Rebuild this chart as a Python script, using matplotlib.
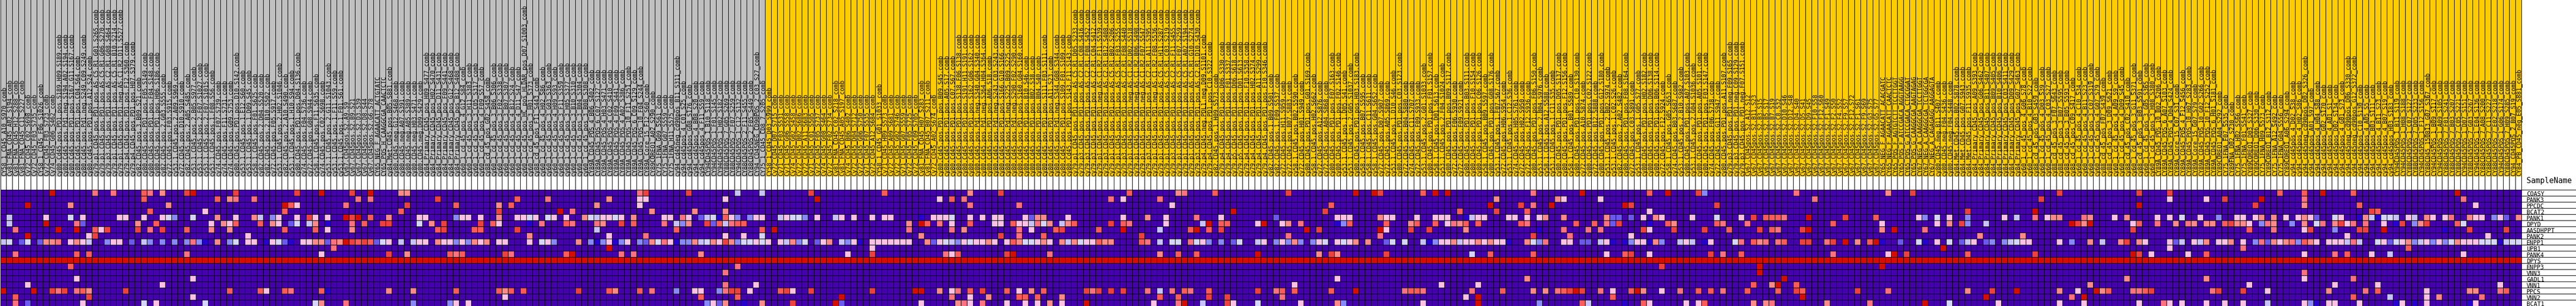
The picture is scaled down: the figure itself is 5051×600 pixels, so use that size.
import numpy as np
import matplotlib
matplotlib.use('Agg')
import matplotlib.pyplot as plt
from matplotlib.colors import ListedColormap
from matplotlib.patches import Rectangle

# heatmap colours, low to high
palette = ['#4500ad', '#2700d1', '#6b58ef', '#8888ff', '#c7c1ff', '#d5d5ff',
           '#ffc0e5', '#ff8989', '#ff7080', '#ff5a5a', '#ef4040', '#d60c00']
level_codes = 'abcdefghijkl'

genes = ['COASY', 'PANK3', 'PPCDC', 'BCAT2', 'PANK1', 'DPYD', 'AASDHPPT', 'PANK2', 'ENPP1', 'UPB1',
         'PANK4', 'DPYS', 'ENPP3', 'VNN3', 'GADL1', 'VNN1', 'PPCS', 'VNN2', 'BCAT1']

n_gray = 125
dpys_code = 'l'

# sample names, left to right
names_000 = ['CY58_1_CD45_A10_S970_comb', 'Cy81_FNA_CD45_A02_S194_comb', 'Cy81_FNA_CD45_H12_S288_comb', 'Cy81_FNA_CD45_C11_S227_comb', 'Cy72_CD45_C02_S698_comb', 'Cy72_CD45_F03_S735_comb', 'CY58_1_CD45_F06_S1026_comb', 'Cy72_CD45_F03_S723_comb', 'Cy74_CD45_G06_S462_comb',
             'cy80.Cd45.pos.PD1.pos.S189.H09.S189.comb', 'cy80.Cd45.pos.Pd1.neg.S194.A02.S194.comb', 'cy80.Cd45.pos.PD1.pos.S167.G11.S167.comb', 'cy80.Cd45.pos.PD1.pos.C04.S64.comb', 'cy80.Cd45.pos.Pd1.neg.S249.C09.S249.comb', 'cy80.Cd45.pos.PD1.pos.A12.S24.comb',
             'cy79.p1.CD45.pos.PD1.pos.AS.C5.R1.G01.S265.comb', 'cy79.p1.CD45.pos.PD1.pos.AS.C5.R1.G06.S270.comb', 'cy79.p3.CD45.pos.PD1.pos.AS.C2.R1.G08.S464.comb', 'cy79.p1.CD45.pos.PD1.pos.AS.C5.R1.B10.S214.comb', 'cy79.p1.CD45.pos.PD1.neg.AS.C1.R2.D11.S527.comb',
             'cy79.p4.CD45.pos.PD1.pos.F12.S360.comb', 'cy79.p4.CD45.pos.PD1.pos.H07.S379.comb', 'cy82.CD45.pos.3.B09.S21.comb', 'cy80.CD45.pos.PD1.pos.F05.S149.comb', 'cy80.CD45.pos.PD1.pos.F04.S148.comb', 'cy80.CD45.pos.PD1.pos.H06.S186.comb', 'cy82.CD45.pos.2.G03.S555.comb', 'cy72.CD45.pos.F03.S915.comb',
             'cy53.1.CD45.pos.2.A09.S969.comb', 'cy72.CD45.pos.D10.S910.comb', 'cy82.CD45.pos.2.A05.S485.comb', 'cy53.1.CD45.pos.2.B05.S977.comb', 'cy53.1.CD45.pos.2.F07.S1027.comb', 'cy53.1.CD45.pos.2.F07.S1015.comb', 'cy53.1.CD45.pos.1.F08.S56.comb', 'cy74.CD45.pos.F07.S739.comb', 'cy74.CD45.pos.F11.S731.comb', 'cy74.CD45.pos.G09.S753.comb',
             'cy80.CD45.pos.PD1.pos.D10.S142.comb', 'cy53.1.CD45.pos.1.E12.S60.comb', 'cy53.1.CD45.pos.1.D09.S45.comb']
names_041 = ['cy58.1.CD45.pos.F01.S625.comb', 'cy82.CD45.pos.2.D04.S520.comb', 'cy82.CD45.pos.2.B10.S502.comb', 'cy72.CD45.pos.F05.S917.comb', 'cy53.1.CD45.pos.2.H02.S1046.comb', 'cy82.CD45.pos.2.A10.S490.comb', 'cy53.1.CD45.pos.1.H10.S94.comb', 'cy80.CD45.pos.PD1.pos.D04.S136.comb', 'cy74.CD45.pos.F04.S736.comb', 'cy72.CD45.pos.G08.S944.comb',
             'cy58.1.CD45.pos.F11.S635.comb', 'cy74.CD45.pos.C02.S698.comb', 'cy53.1.CD45.pos.2.G11.S1043.comb', 'cy53.1.CD45.pos.1.F11.S59.comb', 'cy53.1.CD45.pos.1.F01.S61.comb', 'Cy67.CD45pos.S2.A9.S9', 'Cy67.CD45pos.S2.B9.S21', 'Cy67.CD45pos.S2.D3.S39', 'Cy67.CD45pos.S2.D8.S44', 'Cy67.CD45pos.S2.G6.S78',
             'CY65_NEG_F_AGAACATT_ACTGTATC', 'CY65_POS_H_CAAGGCGA_CAACTCTC', 'cy84.Met.CD45.pos.B05.S881.comb', 'cy80.CD45.neg.G12.S468.comb', 'cy80.CD45.neg.A07.S391.comb', 'cy80.CD45.neg.A05.S389.comb', 'cy80.CD45.neg.H03.S471.comb', 'cy80.CD45.neg.D09.S429.comb',
             'cy84_Primary_CD45_pos_H09_S477_comb', 'cy84_Primary_CD45_pos_H02_S470_comb', 'cy84_Primary_CD45_pos_D11_S431_comb', 'cy84_Primary_CD45_pos_F09_S441_comb', 'cy84_Primary_CD45_pos_G12_S468_comb', 'cy84_Primary_CD45_pos_B12_S408_comb',
             'cy60_1_cd_45_pos_4_G12_S84_comb', 'cy60_1_cd_45_pos_3_H11_S383_comb', 'cy60_1_cd_45_pos_3_C05_S317_comb', 'cy60_1_cd_45_pos_4_F09_S57_comb', 'cy88_cd_45_pos_G02_S458_comb', 'cy60_1_cd_45_pos_3_B06_S306_comb']
names_081 = ['cy60_1_cd_45_pos_3_F02_S338_comb', 'cy60_1_cd_45_pos_3_B07_S307_comb', 'cy60_1_cd_45_pos_4_B12_S24_comb', 'cy60_1_cd_45_pos_4_D11_S47_comb', 'cy60_1_cd_45_pos_HC_pos_HLDAR_pos_D07_S1003_comb', 'cy60_1_cd_45_pos_3_H01_S373_comb', 'cy88_cd_45_pos_F11_S443_comb', 'cy60_1_cd_45_pos_4_H02_S86_comb', 'cy60_1_cd_45_pos_3_G03_S363_comb', 'cy60_1_cd_45_pos_4_H09_S93_comb',
             'cy60_1_cd_45_pos_3_F11_S359_comb', 'cy60_1_cd_45_pos_3_H05_S377_comb', 'cy60_1_cd_45_pos_3_B10_S310_comb', 'cy60_1_cd_45_pos_3_B04_S304_comb', 'cy60_1_cd_45_pos_3_B08_S308_comb',
             'CY89A_CD45_POS_4_B06_S402_comb', 'CY89A_CD45_POS_6_C07_S127_comb', 'CY89A_CD45_POS_4_H03_S471_comb', 'CY89A_CD45_POS_4_C02_S410_comb', 'CY89A_CD45_POS_4_F09_S441_comb', 'CY89A_CD45_POS_4_A02_S386_comb', 'CY89A_CD45_POS_10_F11_S251_comb', 'CY89A_CD45_POS_6_C09_S129_comb', 'CY89A_CD45_POS_10_F04_S244_comb', 'CY89A_Core_15_F12_S60_comb',
             'CY89COREQ1_A02_S290_comb', 'CY75_1FNA_G09_S561_comb', 'CY75_1FNA_G07_S559_comb', 'CY75_1FNA_H11_S575_comb', 'cy94_cd45neg_cd90pos_B11_S311_comb', 'cy94_cd45pos_4_C01_S25_comb', 'cy94_cd45pos_G08_S176_comb', 'cy94_cd45pos_4_B08_S20_comb', 'cy94_cd45pos_4_F11_S59_comb',
             'CY94CD45POS_1_B10_S118_comb', 'CY94CD45POS_1_F01_S145_comb', 'CY94CD45POS_1_H02_S182_comb', 'CY88CD45POS_7_G05_S269_comb', 'CY88CD45POS_7_F07_S259_comb', 'CY94CD45POS_1_C12_S132_comb']
names_121 = ['CY88CD45POS_2_F11_S455_comb', 'CY88CD45POS_2_F05_S449_comb', 'CY94_CD45NEG_CD90POS_2_C03_S27_comb', 'CY75_1_CD45_CD8_7_S205_comb', 'CY58_1_CD45_D03_S999_comb', 'Cy72_CD45_D07_S715_comb', 'Cy71_CD45_F03_S531_comb', 'Cy71_CD45_G06_S558_comb', 'Cy74_CD45_G02_S458_comb', 'Cy72_CD45_B02_S686_comb',
             'Cy72_CD45_A11_S683_comb', 'Cy71_CD45_C01_S505_comb', 'Cy72_CD45_F05_S737_comb', 'Cy74_CD45_G08_S464_comb', 'Cy72_CD45_F02_S734_comb', 'Cy81_FNA_CD45_C02_S218_comb', 'Cy81_FNA_CD45_A05_S197_comb', 'Cy74_CD45_B06_S402_comb', 'Cy72_CD45_D04_S712_comb', 'Cy72_CD45_G06_S750_comb',
             'Cy71_CD45_F07_S535_comb', 'Cy72_CD45_A12_S684_comb', 'CY58_1_CD45_G01_S1033_comb', 'Cy71_CD45_H09_S573_comb', 'Cy72_CD45_A09_S681_comb', 'Cy72_CD45_G02_S746_comb', 'Cy71_CD45_G07_S559_comb', 'Cy72_CD45_F05_S725_comb', 'Cy72_CD45_C09_S705_comb', 'Cy81_FNA_CD45_H07_S283_comb',
             'Cy81_FNA_CD45_B07_S211_comb', 'Cy72_CD45_A02_S674_comb', 'cy80.Cd45.pos.PD1.pos.B09.S45.comb', 'cy80.Cd45.pos.PD1.pos.A05.S17.comb', 'cy80.Cd45.pos.PD1.pos.C07.S67.comb', 'cy80.Cd45.pos.PD1.pos.S138.F06.S138.comb', 'cy80.Cd45.pos.PD1.pos.S191.H11.S191.comb', 'cy80.Cd45.pos.PD1.pos.S162.G06.S162.comb', 'cy80.Cd45.pos.Pd1.neg.S340.G04.S340.comb', 'cy80.Cd45.pos.Pd1.neg.S364.H04.S364.comb']
names_161 = ['cy80.Cd45.pos.PD1.pos.A06.S18.comb', 'cy80.Cd45.pos.Pd1.neg.S243.C03.S243.comb', 'cy80.Cd45.pos.PD1.pos.S166.G10.S166.comb', 'cy80.Cd45.pos.Pd1.neg.S225.B09.S225.comb', 'cy80.Cd45.pos.Pd1.neg.S290.F02.S290.comb', 'cy80.Cd45.pos.PD1.pos.S160.G04.S160.comb', 'cy80.Cd45.pos.PD1.pos.B10.S46.comb', 'cy80.Cd45.pos.PD1.pos.B02.S38.comb', 'cy80.Cd45.pos.PD1.pos.B04.S40.comb', 'cy80.Cd45.pos.PD1.pos.S111.F03.S111.comb',
             'cy80.Cd45.pos.PD1.pos.A11.S23.comb', 'cy80.Cd45.pos.Pd1.neg.S344.G08.S344.comb', 'cy80.Cd45.pos.PD1.pos.S109.F01.S109.comb', 'cy80.Cd45.pos.PD1.pos.S143.F11.S143.comb', 'cy79.p1.CD45.pos.PD1.pos.AS.C5.R1.D05.S233.comb', 'cy79.p3.CD45.pos.PD1.pos.AS.C2.R1.C08.S416.comb', 'cy79.p3.CD45.pos.PD1.pos.AS.C2.R1.F08.S452.comb', 'cy79.p3.CD45.pos.PD1.pos.AS.C2.R1.C04.S412.comb', 'cy79.p1.CD45.pos.PD1.neg.AS.C1.R2.F11.S539.comb', 'cy79.p3.CD45.pos.PD1.pos.AS.C2.R1.B12.S408.comb',
             'cy79.p1.CD45.pos.PD1.pos.AS.C5.R1.B02.S206.comb', 'cy79.p1.CD45.pos.PD1.pos.AS.C5.R1.F03.S255.comb', 'cy79.p3.CD45.pos.PD1.pos.AS.C2.R1.F08.S440.comb', 'cy79.p1.CD45.pos.PD1.neg.AS.C1.R2.D02.S518.comb', 'cy79.p1.CD45.pos.PD1.neg.AS.C1.R2.B06.S498.comb', 'cy79.p1.CD45.pos.PD1.neg.AS.C1.R2.F07.S547.comb', 'cy79.p3.CD45.pos.PD1.pos.AS.C2.R1.A11.S395.comb', 'cy79.p1.CD45.pos.PD1.neg.AS.C1.R2.F08.S536.comb', 'cy79.p1.CD45.pos.PD1.pos.AS.C5.R1.H11.S287.comb', 'cy79.p1.CD45.pos.PD1.pos.AS.C5.R1.C03.S219.comb',
             'cy79.p3.CD45.pos.PD1.pos.AS.C2.R1.F11.S455.comb', 'cy79.p1.CD45.pos.PD1.pos.AS.C5.R1.F07.S259.comb', 'cy79.p1.CD45.pos.PD1.pos.AS.C5.R1.A02.S194.comb', 'cy79.p1.CD45.pos.PD1.pos.AS.C5.R1.G10.S274.comb', 'cy79.p3.CD45.pos.PD1.pos.AS.C2.R1.D10.S430.comb', 'cy79.p4.CD45.neg.PDL1.neg.D09.S1101.comb', 'cy79.p4.CD45.pos.PD1.pos.C10.S322.comb', 'cy82.CD45.pos.1.H09.S573.comb', 'cy79.p4.CD45.pos.PD1.pos.D06.S330.comb', 'cy79.p4.CD45.pos.PD1.pos.F01.S337.comb']
names_201 = ['cy79.p5.CD45.pos.PD1.pos.D06.S618.comb', 'cy79.p5.CD45.pos.PD1.pos.D01.S613.comb', 'cy79.p4.CD45.pos.PD1.pos.F10.S358.comb', 'cy79.p4.CD45.pos.PD1.pos.H02.S374.comb', 'cy79.p4.CD45.pos.PD1.pos.A11.S299.comb', 'cy79.p4.CD45.pos.PD1.pos.F10.S346.comb', 'cy82.CD45.pos.1.B09.S501.comb', 'cy82.CD45.pos.1.F09.S537.comb', 'cy72.CD45.pos.H11.S959.comb', 'cy72.CD45.pos.B07.S883.comb',
             'cy58.1.CD45.pos.B02.S590.comb', 'cy72.CD45.pos.H01.S949.comb', 'cy80.CD45.pos.PD1.pos.G01.S169.comb', 'cy58.1.CD45.pos.H02.S662.comb', 'cy72.CD45.pos.A12.S876.comb', 'cy72.CD45.pos.A04.S868.comb', 'cy80.CD45.pos.PD1.pos.F07.S163.comb', 'cy80.CD45.pos.PD1.pos.F02.S146.comb', 'cy53.1.CD45.pos.1.D05.S41.comb', 'cy53.1.CD45.pos.2.G05.S1037.comb',
             'cy80.CD45.pos.PD1.pos.H03.S183.comb', 'cy58.1.CD45.pos.B07.S595.comb', 'cy58.1.CD45.pos.C11.S611.comb', 'cy58.1.CD45.pos.G04.S652.comb', 'cy72.CD45.pos.D07.S907.comb', 'cy72.CD45.pos.A05.S869.comb', 'cy53.1.CD45.pos.1.D10.S46.comb', 'cy80.CD45.pos.PD1.pos.C03.S123.comb', 'cy72.CD45.pos.B04.S880.comb', 'cy74.CD45.pos.C11.S707.comb',
             'cy72.CD45.pos.F09.S933.comb', 'cy53.1.CD45.pos.2.G01.S1033.comb', 'cy80.CD45.pos.PD1.pos.F01.S157.comb', 'cy58.1.CD45.pos.D01.S613.comb', 'cy53.1.CD45.pos.2.F04.S1024.comb', 'cy80.CD45.pos.PD1.pos.B09.S117.comb', 'cy72.CD45.pos.F06.S930.comb', 'cy72.CD45.pos.F09.S921.comb', 'cy80.CD45.pos.PD1.pos.B03.S111.comb', 'cy80.CD45.pos.PD1.pos.F10.S154.comb']
names_241 = ['cy80.CD45.pos.PD1.pos.C06.S126.comb', 'cy58.1.CD45.pos.B09.S597.comb', 'cy80.CD45.pos.PD1.pos.G08.S176.comb', 'cy53.1.CD45.pos.1.F07.S67.comb', 'cy72.CD45.pos.H06.S954.comb', 'cy53.1.CD45.pos.1.C12.S36.comb', 'cy74.CD45.pos.H05.S761.comb', 'cy72.CD45.pos.H02.S950.comb', 'cy72.CD45.pos.F12.S936.comb', 'cy80.CD45.pos.PD1.pos.F06.S150.comb',
             'cy53.1.CD45.pos.2.B04.S976.comb', 'cy58.1.CD45.pos.A12.S588.comb', 'cy53.1.CD45.pos.1.C11.S35.comb', 'cy80.CD45.pos.PD1.pos.D05.S137.comb', 'cy80.CD45.pos.PD1.pos.F12.S156.comb', 'cy58.1.CD45.pos.B01.S589.comb', 'cy80.CD45.pos.PD1.pos.C10.S130.comb', 'cy72.CD45.pos.A10.S874.comb', 'cy80.CD45.pos.PD1.pos.C02.S122.comb', 'cy72.CD45.pos.B12.S888.comb',
             'cy80.CD45.pos.PD1.pos.G12.S180.comb', 'cy53.1.CD45.pos.2.B02.S974.comb', 'cy53.1.CD45.pos.1.C02.S26.comb', 'cy82.CD45.pos.2.A02.S482.comb', 'cy80.CD45.pos.PD1.pos.F08.S164.comb', 'cy72.CD45.pos.C03.S891.comb', 'cy53.1.CD45.pos.1.G05.S77.comb', 'cy80.CD45.pos.PD1.pos.H02.S182.comb', 'cy80.CD45.pos.PD1.pos.D06.S138.comb', 'cy80.CD45.pos.PD1.pos.B06.S114.comb',
             'cy72.CD45.pos.F12.S924.comb', 'cy58.1.CD45.pos.G05.S653.comb', 'cy74.CD45.pos.B03.S687.comb', 'cy53.1.CD45.pos.2.B10.S982.comb', 'cy80.CD45.pos.PD1.pos.A07.S103.comb', 'cy53.1.CD45.pos.2.G04.S1036.comb', 'cy80.CD45.pos.PD1.pos.A05.S101.comb', 'cy80.CD45.pos.PD1.pos.F03.S147.comb', 'cy74.CD45.pos.F06.S738.comb', 'cy72.CD45.pos.G11.S947.comb']
names_281 = ['cy80.CD45.pos.PD1.pos.A11.S107.comb', 'cy79.p3.CD45.pos.PD1.neg.F09.S165.comb', 'cy79.p3.CD45.pos.PD1.neg.C09.S129.comb', 'cy79.p3.CD45.pos.PD1.neg.F07.S151.comb', 'Cy67.CD45pos.S2.A12.S12', 'Cy67.CD45pos.S2.B11.S23', 'Cy67.CD45pos.S2.B3.S15', 'Cy67.CD45pos.S2.B5.S17', 'Cy67.CD45pos.S2.B7.S19', 'Cy67.CD45pos.S2.C8.S32',
             'Cy67.CD45pos.S2.D10.S46', 'Cy67.CD45pos.S2.D12.S48', 'Cy67.CD45pos.S2.D4.S40', 'Cy67.CD45pos.S2.D5.S41', 'Cy67.CD45pos.S2.D9.S45', 'Cy67.CD45pos.S2.F10.S58', 'Cy67.CD45pos.S2.F12.S60', 'Cy67.CD45pos.S2.F1.S49', 'Cy67.CD45pos.S2.F2.S50', 'Cy67.CD45pos.S2.F4.S52',
             'Cy67.CD45pos.S2.F9.S57', 'Cy67.CD45pos.S2.F12.S72', 'Cy67.CD45pos.S2.F1.S61', 'Cy67.CD45pos.S2.F9.S69', 'Cy67.CD45pos.S2.G3.S75', 'Cy67.CD45pos.S2.G5.S77', 'CY65_NEG_F_AGAACATT_ACACGATC', 'CY65_NEG_F_AGAACATT_CAACTCTC', 'CY65_POS_F_AGTGTCTT_TCCTTGGT', 'CY65_POS_F_ATCCGACA_AGGTAAGG',
             'CY65_POS_G_ATCCGACA_CTGCGGAT', 'CY65_POS_G_CAAGGCGA_AAGTAGAG', 'CY67_NEG_A_CAAGGCGA_TCCTTGGT', 'CY67_NEG_A_CAAGGCGA_TCTGGCGA', 'CY67_NEG_A_CAGAGAGG_AAGGAGTA', 'cy80.CD45.neg.B11.S407.comb', 'cy80.CD45.neg.F04.S436.comb', 'cy80.CD45.neg.F04.S448.comb', 'cy84.Met.CD45.pos.B02.S878.comb', 'cy84.Met.CD45.pos.G07.S943.comb']
names_321 = ['cy84.Met.CD45.pos.F11.S935.comb', 'cy84_Primary_CD45_pos_A09_S393_comb', 'cy84_Primary_CD45_pos_G06_S462_comb', 'cy84_Primary_CD45_pos_B11_S407_comb', 'cy84_Primary_CD45_pos_B09_S405_comb', 'cy84_Primary_CD45_pos_B10_S406_comb', 'cy84_Primary_CD45_pos_C03_S411_comb', 'cy84_Primary_CD45_pos_D09_S429_comb', 'cy84_Primary_CD45_pos_G07_S463_comb', 'cy60_1_cd_45_pos_4_G06_S78_comb',
             'cy60_1_cd_45_pos_4_B10_S22_comb', 'cy88_cd_45_pos_G03_S459_comb', 'cy60_1_cd_45_pos_4_D03_S39_comb', 'cy60_1_cd_45_pos_4_C03_S27_comb', 'cy88_cd_45_pos_3_F07_S643_comb', 'cy88_cd_45_pos_3_B07_S595_comb', 'cy88_cd_45_pos_3_B05_S593_comb', 'cy88_cd_45_pos_C09_S417_comb', 'cy60_1_cd_45_pos_4_C10_S34_comb', 'cy60_1_cd_45_pos_4_B11_S23_comb',
             'cy60_1_cd_45_pos_3_C07_S319_comb', 'cy60_1_cd_45_pos_4_G07_S79_comb', 'cy88_cd_45_pos_F07_S439_comb', 'cy88_cd_45_pos_3_D09_S621_comb', 'cy60_1_cd_45_pos_4_A09_S9_comb', 'cy60_1_cd_45_pos_4_D09_S45_comb', 'cy88_cd_45_pos_C02_S410_comb', 'cy60_1_cd_45_pos_3_G11_S371_comb', 'cy88_cd_45_pos_3_B03_S591_comb', 'cy60_1_cd_45_pos_3_G05_S365_comb',
             'cy60_1_cd_45_pos_3_H08_S380_comb', 'CY89A_CD45_POS_10_B02_S206_comb', 'CY89A_CD45_POS_6_A07_S103_comb', 'CY89A_CD45_POS_4_D04_S424_comb', 'CY89A_Core_15_C07_S31_comb', 'CY89A_CD45_POS_4_F12_S456_comb', 'CY89A_CD45_POS_10_H07_S283_comb', 'CY89A_Core_15_G07_S79_comb', 'CY89A_CD45_POS_10_G02_S266_comb', 'CY89A_CD45_POS_10_F12_S252_comb']
names_361 = ['CY89A_CD45_POS_6_H01_S181_comb', 'CY89COREQ1_A04_S292_comb', 'CY75_1FNA_F07_S535_comb', 'CY89FNA_D02_S230_comb', 'CY75_1FNA_H02_S566_comb', 'CY75_1FNA_F01_S541_comb', 'CY89COREQ1_D03_S327_comb', 'CY89COREQ1_D06_S330_comb', 'CY75_1FNA_H09_S573_comb', 'CY89COREQ1_B12_S312_comb',
             'CY75_1FNA_A12_S492_comb', 'CY75_1FNA_G04_S556_comb', 'CY89COREQ1_A06_S294_comb', 'cy94_cd45pos_4_D02_S38_comb', 'cy94_cd45pos_4_H02_S86_comb', 'cy94_cd45neg_cd90pos_D02_S326_comb', 'cy94_cd45pos_A01_S97_comb', 'cy94_cd45pos_4_H04_S88_comb', 'cy94_cd45pos_G02_S170_comb', 'cy94_cd45pos_4_A01_S1_comb',
             'cy94_cd45pos_D02_S134_comb', 'cy94_cd45pos_4_G01_S73_comb', 'cy94_cd45neg_cd90pos_D06_S330_comb', 'cy94_cd45neg_cd90pos_G12_S372_comb', 'cy94_cd45pos_C10_S130_comb', 'cy94_cd45pos_4_A05_S5_comb', 'cy94_cd45pos_B03_S111_comb', 'cy94_cd45pos_4_B11_S23_comb', 'cy94_cd45pos_4_B07_S19_comb', 'cy94_cd45pos_H03_S183_comb',
             'CY94CD45POS_1_B11_S119_comb', 'CY94CD45POS_1_H08_S188_comb', 'CY88CD45POS_1_C07_S127_comb', 'CY88CD45POS_7_D05_S233_comb', 'CY94CD45POS_1_F12_S156_comb', 'CY88CD45_150813_G07_S367_comb', 'CY94CD45POS_1_B09_S117_comb', 'CY94CD45POS_1_A09_S105_comb', 'CY88CD45POS_7_F01_S241_comb', 'CY88CD45POS_7_B03_S207_comb']
# the tops of these last ones could not be read, estimated from the shape of the group
names_401 = ['CY88CD45POS_7_C05_S221_comb', 'CY94CD45POS_1_D07_S151_comb', 'CY88CD45POS_7_G03_S267_comb', 'CY94CD45POS_1_E04_S136_comb', 'CY88CD45POS_7_A08_S200_comb', 'CY88CD45POS_7_C11_S227_comb', 'CY88CD45POS_7_E02_S218_comb', 'CY94CD45POS_1_G06_S174_comb', 'CY88CD45POS_7_H09_S285_comb', 'CY94_CD45POS_2_B07_S19_comb', 'CY84_PB_CD45_neg_E05_S881_comb']

# non-purple cells per gene row, "<column in block><level code>"
block_000 = {0: '8l 15i 18i 23j 24i 26h 30k 31l 38k', 1: '23j 35j 37h 38i', 2: '4l 11h 27h', 3: '24j 33g',
             4: '1e 7g 11f 13g 19g 20g 23g 26g 27f 28d 31f 35h 38g', 5: '1e 7l 12i 13c 22h 25j 34g 36h 37g 38j',
             6: '2i 9l 12l 15j 16g 17k 22k 24i 26k 30j 34h 37h', 7: '4l 14g 15k 40g',
             8: '0e 1f 3c 4f 6c 7h 8h 9i 11g 12h 13g 14e 17d 18g 19g 21c 23e 24d 26d 28d 30d 31i 32d 33b 35h 37d 38f 40g',
             10: '2i 12j 14j 30i', 12: '11j', 14: '12g 31g', 15: '4g 26g', 16: '0l 5l 8k 9i 10k 12i 13j 14h 20k 37j',
             17: '2j 14k 31g', 18: '2i 4c 13g 23f 25g 33f'}
block_041 = {0: '7k 11l 16k 19l 24h 25h', 1: '0i 17i 19i 30k', 2: '5l 6j 7g 15i 25k 33j', 3: '5j 24j',
             4: '0h 1e 3d 4g 7g 9k 10g 12g 15l 16k 17l 19j 22h 27g 28g 33d 34g 35g 37g',
             5: '1j 3h 4g 6c 7f 9e 10h 12b 16i 18j 21k 22k 27f 29h 31k 37k 39j', 6: '5j 10j 12g 16h 30j 31k 36j 37j',
             8: '0g 2b 3g 4f 5c 6b 8g 9g 10h 11h 12c 13i 14h 15l 16k 17j 18k 19j 20c 21f 22g 24e 26e 27g 28g 30h 31g 32g 33d 34g 35d 36h 37g 38h',
             9: '13i', 10: '11g 22k 25h 32j 33i 34j', 16: '1j 2g 5j 6i 11j 12b 22h 26h 33j', 18: '10f 11h 15i 26d 32d 33g 35g'}
block_081 = {0: '23i 24k 31k 39e', 1: '3j 8i 18h 23g 24g 37g', 2: '0h 2j 16h 23g', 3: '0k 10l 12i 25h 32h 37h',
             4: '0h 3g 4g 5f 6g 8f 9g 11g 14h 15f 16e 17g 18g 19f 20g 22h 27g 28g 30i 31g 33c 34e 35f 36b 37j 38g 39d',
             5: '0g 5b 7i 11j 12i 16i 17h 20k 22j 27i 29e 30d 31h 34k 35c 36j 37e 38i 39j', 6: '3k 16e 29j', 7: '5h 18g 24i 37g',
             8: '0g 1g 5g 7f 8g 9d 13h 15d 16b 17d 18g 19b 20d 21g 23d 24c 25h 26f 27i 28g 29b 30d 31d 32h 33e 34f 35h 36g 37k 38h 39d',
             9: '18l', 10: '1k 2i 11j 12l 20i 22i 33h', 12: '39i', 13: '37i', 15: '37i',
             16: '0j 1h 2j 4j 13k 18j 19h 23j 25i 29d 32g 33g 36d 37i 38k 39k', 17: '1g 33j 39j', 18: '34d 35g 36c 37h'}
block_121 = {0: '3e 11k 23j 37h', 1: '12l 32g 34j 36i', 2: '37i',
             4: '1d 2g 3g 6e 7g 8f 9f 10d 12g 15e 16g 18g 21g 23g 24g 29b 31g 32g 33g 34f 37g 39g',
             5: '0j 27h 29l 30j 32i 34g 37j', 6: '3j 5l 27i 34i 36h', 7: '0g 3f 29h',
             8: '0f 1f 2g 3f 4g 6g 7e 8h 9d 10f 12c 13g 14h 16e 17d 18g 19b 21g 22g 23g 24g 25g 26g 27g 30h 31c 32g 33f 34e 35d 36g 37f 38g 39g',
             9: '21g', 10: '17g 21k 33i 34g 35j', 15: '2g', 16: '1g 6j 7k 8g 11k 21k 28l 29l 32h 34g 35i 37j 39k',
             17: '16l 34i 37g', 18: '0b 3h 8k 15l 16c 29g 35h 36i 37g 39i'}
block_161 = {0: '2k 23j 31h 32i 37j', 1: '20i 22g 28i', 2: '5i 30g', 4: '1g 2g 6g 7c 8h 9h 13g 22g 26h 29g 34i 38g',
             5: '1g 2g 4j 5g 6g 7e 8i 9f 10h 12e 13h 14j 20k 22j 23i 29g 35e 36l 38j 39j',
             6: '5i 7g 11j 12k 18j 22l 28e 33j 34l 36j 38k', 7: '2k 5i 9j 25k',
             8: '0h 1g 3g 4j 5h 6f 7f 8g 9h 10g 12h 13e 14h 15f 16g 17g 18j 19h 20h 25j 26i 28e 30f 31f 33i 34f 35g 36d 38d',
             10: '3k 4l 10i 28h 31j 34j', 16: '3j 5g 7h 9j 16k 17i 18k 20k 22k 26i 28e 30i 32j 33i 36j',
             17: '0h 5j 6j 8j 12h 28j 31j 36k 39k', 18: '3g 6g 8g 10h 12g 16l 27g 31i 32l 35e 39k'}
block_201 = {0: '9k 20l 23l 24k 31j 33l 35l', 2: '16j', 3: '0l 15k 37j',
             4: '7c 17g 18g 19g 24h 25g 26g 30g 33g 34g 35g 38b 39e',
             5: '4g 5l 8g 9h 11i 17b 18d 19j 25j 29h 30j 33j 35g 36i 37h 38j', 6: '12l 14k 24l 25g 29k 32k 38h', 7: '9i 24i',
             8: '0c 1f 4e 5g 7d 8g 9d 10h 11d 13d 14g 15f 17g 18f 19g 20h 22h 25c 26f 28f 31e 32b 33d 34g 35g 36h 37e 38g 39g',
             10: '4l 14h 16k 17h 25k 39f', 14: '17g', 15: '10g 34g', 16: '4k 7i 8j 10j 16j 20l 28i 29j 30j 31i 39i',
             17: '8i 38g', 18: '0g 4f 11g 17h 18d 31g'}
block_241 = {0: '9i 17l 28j 31l 36k 37d', 1: '3h 13h 14g 20g', 2: '2l 7k 9i 12l 24l 25k 39k', 3: '3k 8j 28g',
             4: '0g 1g 5g 6g 8g 10g 11h 14h 21h 22c 23c 25c 27g 29h 30g 35g 39f',
             5: '0j 7j 8i 16j 19j 21i 22c 23k 28b 31j 32h 39j', 6: '10b 14i 18i 20i 27k 28g 32k 37k', 7: '9k 15i 25g',
             8: '0h 1g 2h 3g 4g 5b 8h 9f 10d 11i 14g 15g 17c 18c 20e 21g 22b 24b 25d 26g 27g 28b 29h 30d 33e 34g 35e 37b 38g',
             10: '2j 9j 21g 24j 25k 28g 38k', 12: '30k', 14: '8h', 15: '0g',
             16: '4j 9h 11h 13i 14j 15k 16l 17k 20i 22g 25j 26l 27h 30g 33i 36j 38j', 17: '0l 22j',
             18: '0l 10d 17j 18e 24b 27j 28g 34g 36g 37j'}
block_281 = {0: '12i 27h 31k', 1: '15i', 4: '3g 5k 7j 8j 9j 10i 14l 20k 25j 32g 33d 35f 37g', 5: '0i 4i 18j 26g 35g 37h 39k',
             6: '1j 6k 8j 9i 13k 14l 26h 28l 33i',
             8: '2f 3i 5j 6h 7i 9i 10j 13k 14k 17i 18k 20l 22h 24j 25l 26b 29c 32f 33b 35g 37f 39c',
             9: '36l', 10: '0i 3j 18i 27g 28l 30k', 12: '6l 26l', 13: '6l', 14: '10l', 15: '5j 8h 9l 12j',
             16: '0i 4j 9j 12k 13j 22k 27i', 17: '13l', 18: '5h 7h 8i 17h 24i 33l 37f'}
block_321 = {0: '15k 28k 33k', 1: '12k 33g 39g', 2: '28l', 3: '0k 11l',
             4: '0d 6g 8e 11i 13g 14h 15h 19i 20h 24g 26h 31g 33g 35f 38g',
             5: '0d 3e 17l 18k 19h 20l 27g 28j 31i 34h 36i 37h 39h', 6: '27k', 7: '2h 9h',
             8: '0e 1g 3c 4d 6d 7e 8f 9g 10g 15g 17d 20h 22e 25h 26k 28h 29g 33g 34c 35e 37g 38e 39h',
             9: '33g', 10: '0j 11k 27l 28k 30g 36g 39j', 14: '26h 39h', 15: '20h',
             16: '0h 4k 8l 15h 18g 21l 22h 23j 27i 28i 29j 30k', 17: '3l 17i 19l', 18: '5g 15g 19g 28g 32i 33g 35g 39g'}
block_361 = {0: '11j 15j 18l 23j', 1: '2k 8l 15i', 2: '7k 15h 24j', 3: '26k 27j',
             4: '1d 4g 5g 7g 8h 10h 12g 14g 15h 16g 17c 20f 21g 24b 25h 26e 27b 28f 29f 30e 32g 33e 35h 36g 38g 39i',
             5: '0h 2j 3k 4h 5h 6g 8d 9i 10h 13d 15h 17f 18i 20h 21k 22g 23i 25i 28g 30b 31k 33d 34h 35k',
             6: '6j 10i 15g 16k 20d 24k 25k 28l 38b', 7: '22g',
             8: '1g 2g 3h 5g 7d 8i 9c 10h 11g 12h 13i 14d 15j 16h 17g 19g 20g 21g 22e 23i 24e 27f 28g 29c 30f 31g 32h 33d 34e 35g 36d 37g 38d 39f',
             9: '5i 32j', 10: '15g 20i 22j 26g 29e', 13: '15i', 14: '15g 23i', 15: '6g 20g 27g',
             16: '0i 1k 5k 9g 19h 25i 27j 35g', 17: '23j 29e 35g 37h', 18: '2g 5g 9e 15g 16d 17b 19g 20g 24g 30b 31g 33b 35g'}
block_396 = {0: '5l', 1: '6i', 2: '8g', 4: '7h 8g 9g 11d 12g 13c 15h', 5: '5j 6f', 6: '7k 13k', 7: '10g',
             8: '5h 6g 7g 8g 9f 10f 11f 12b 13e 14f 15f', 10: '6g', 15: '12g', 16: '7h 8h 12i 13j', 17: '9i', 18: '7b 8g'}

sample_names = (names_000 + names_041 + names_081 + names_121 + names_161 + names_201
                + names_241 + names_281 + names_321 + names_361 + names_401)
blocks = [(0, block_000), (41, block_041), (81, block_081), (121, block_121), (161, block_161), (201, block_201),
          (241, block_241), (281, block_281), (321, block_321), (361, block_361), (396, block_396)]

n_col = len(sample_names)
n_row = len(genes)
print(n_col, n_row)

# build the matrix
heat = np.zeros((n_row, n_col), dtype=int)
for start, block in blocks:
    for row, cells in block.items():
        for cell in cells.split():
            heat[row, start + int(cell[:-1])] = level_codes.index(cell[-1])
heat[genes.index('DPYS'), :] = level_codes.index(dpys_code)

W, H = 5051, 600
x0, x1 = 0.5, 4944.5
head_bottom = 345.7
heat_top, heat_bottom = 371.5, 599.5
mono = 'DejaVu Sans Mono'
label_size = 11.6 * 72 / 100

fig = plt.figure(figsize=(W / 100, H / 100), dpi=100, facecolor='white')

# sample header
ax_head = fig.add_axes([x0 / W, (H - heat_top) / H, (x1 - x0) / W, heat_top / H])
ax_head.set_xlim(0, n_col)
ax_head.set_ylim(heat_top, 0)
ax_head.axis('off')
bar_colors = ['#c0c0c0'] * n_gray + ['#ffcc00'] * (n_col - n_gray)
ax_head.bar(np.arange(n_col), head_bottom, width=1, align='edge', color=bar_colors, linewidth=0, antialiased=False)
ax_head.vlines(np.arange(n_col + 1), 0, heat_top, color='black', linewidth=0.72, antialiased=False, clip_on=False)
for i, name in enumerate(sample_names):
    ax_head.text(i + 0.93, head_bottom - 0.5, name, rotation=90, rotation_mode='anchor', ha='left', va='baseline',
                 family=mono, fontsize=label_size, color='black', clip_on=False)

# heatmap
ax_heat = fig.add_axes([x0 / W, (H - heat_bottom) / H, (x1 - x0) / W, (heat_bottom - heat_top) / H])
ax_heat.pcolormesh(np.arange(n_col + 1), np.arange(n_row + 1), heat, cmap=ListedColormap(palette),
                   vmin=-0.5, vmax=11.5, antialiased=False)
ax_heat.set_xlim(0, n_col)
ax_heat.set_ylim(n_row, 0)
ax_heat.axis('off')
ax_heat.vlines(np.arange(n_col + 1), 0, n_row, color='black', linewidth=0.72, antialiased=False, clip_on=False)
ax_heat.hlines(np.arange(n_row + 1), 0, n_col, color='black', linewidth=0.72, antialiased=False, clip_on=False)

# gene names on the right, cut off by the next row as in the reference
ax_side = fig.add_axes([x1 / W, (H - heat_bottom) / H, (W - x1) / W, (heat_bottom - heat_top) / H])
ax_side.set_xlim(x1, W)
ax_side.set_ylim(n_row, 0)
ax_side.axis('off')
ax_side.hlines(np.arange(n_row + 1), x1, W, color='black', linewidth=0.72, antialiased=False, clip_on=False)
for r, gene in enumerate(genes):
    t = ax_side.text(4954, r + 13 / 12, gene, ha='left', va='baseline', family=mono, fontsize=label_size, color='black')
    t.set_clip_path(Rectangle((x1, r), W - x1, 1, transform=ax_side.transData))
    t.set_clip_on(True)
fig.text(4954 / W, (H - 359) / H, 'SampleName', ha='left', va='baseline', family=mono, fontsize=14.7 * 72 / 100, color='black')

fig.savefig('out.png', dpi=100, facecolor='white')
